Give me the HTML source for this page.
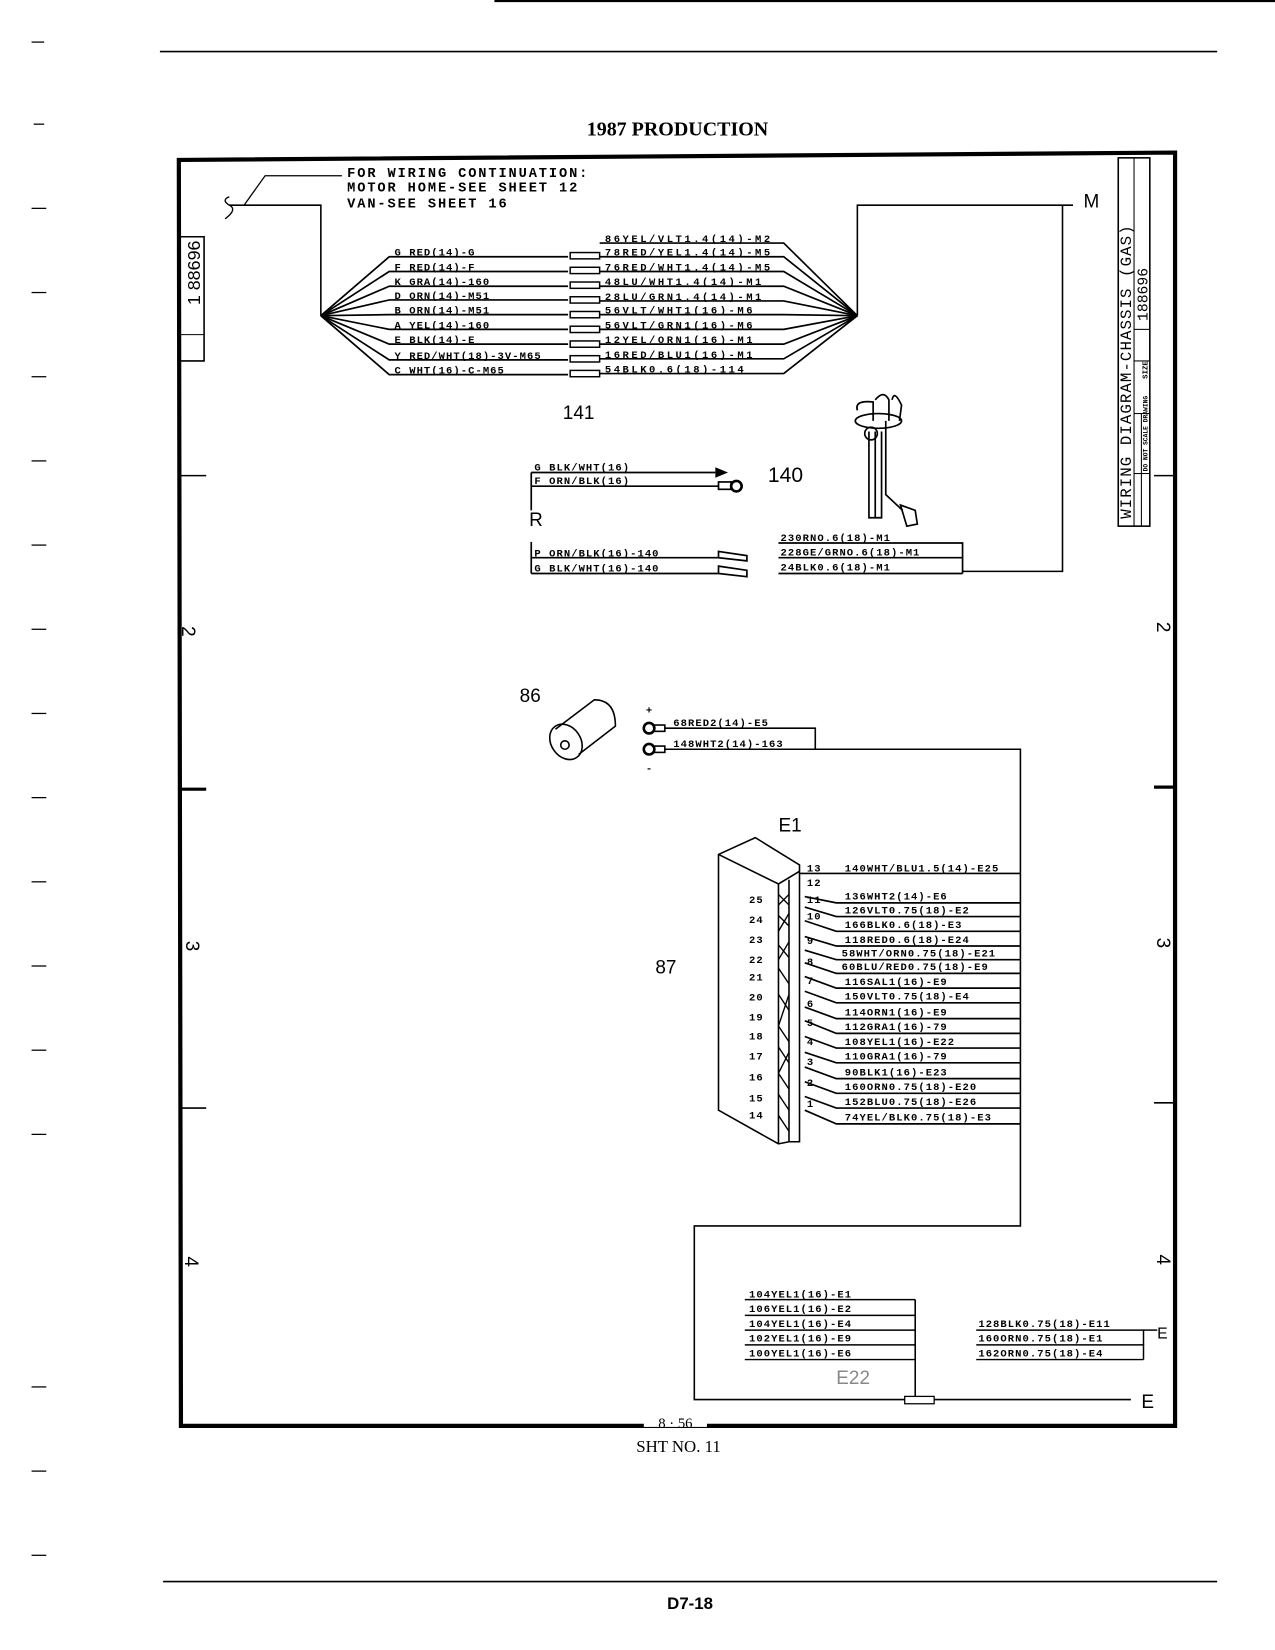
<!DOCTYPE html>
<html><head><meta charset="utf-8"><style>
html,body{margin:0;padding:0;background:#fff}
svg{display:block}
text{font-family:"Liberation Mono",monospace;fill:#000}
.s{font-size:10px;font-weight:bold;letter-spacing:1px}
.w{letter-spacing:2.4px}
.m{font-size:14px}
.big{font-family:"Liberation Sans",sans-serif;font-size:18px}
.ser{font-family:"Liberation Serif",serif;font-size:19px}
</style></head><body>
<svg width="1275" height="1650" viewBox="0 0 1212 1568" preserveAspectRatio="none" xmlns="http://www.w3.org/2000/svg">
<g stroke="#000" fill="none">
<line x1="470" y1="1" x2="1212" y2="1" stroke-width="2"/>
<line x1="152" y1="49" x2="1157" y2="49" stroke-width="1.5"/>
<line x1="155" y1="1503" x2="1157" y2="1503" stroke-width="1.5"/>
<path d="M170 152 L1117 145 L1117 1355 L172 1355 Z" stroke-width="4"/>
<g stroke-width="1.2">
<line x1="30" y1="40" x2="42" y2="40"/><line x1="32" y1="118" x2="42" y2="118"/><line x1="30" y1="198" x2="44" y2="198"/><line x1="30" y1="278" x2="44" y2="278"/><line x1="30" y1="358" x2="44" y2="358"/><line x1="30" y1="438" x2="44" y2="438"/><line x1="30" y1="518" x2="44" y2="518"/><line x1="30" y1="598" x2="44" y2="598"/><line x1="30" y1="678" x2="44" y2="678"/><line x1="30" y1="758" x2="44" y2="758"/><line x1="30" y1="838" x2="44" y2="838"/><line x1="30" y1="918" x2="44" y2="918"/><line x1="30" y1="998" x2="44" y2="998"/><line x1="30" y1="1078" x2="44" y2="1078"/><line x1="30" y1="1318" x2="44" y2="1318"/><line x1="30" y1="1398" x2="44" y2="1398"/><line x1="30" y1="1478" x2="44" y2="1478"/>
</g>
<line x1="172" y1="452" x2="196" y2="452" stroke-width="1.5"/><line x1="172" y1="1053" x2="196" y2="1053" stroke-width="1.5"/>
<line x1="1097" y1="452" x2="1117" y2="452" stroke-width="1.5"/><line x1="1097" y1="1048" x2="1117" y2="1048" stroke-width="1.5"/>
<line x1="172" y1="750" x2="196" y2="750" stroke-width="3"/><line x1="1097" y1="748" x2="1117" y2="748" stroke-width="3"/>
<path d="M172 225 H194 V343 H172" stroke-width="1.5"/>
<line x1="172" y1="318" x2="194" y2="318" stroke-width="1"/>
<rect x="1063" y="150" width="30" height="350" stroke-width="1.5"/>
<line x1="1078" y1="150" x2="1078" y2="500" stroke-width="1"/>
<line x1="1078" y1="313" x2="1093" y2="313"/><line x1="1078" y1="343" x2="1093" y2="343"/><line x1="1078" y1="393" x2="1093" y2="393"/><line x1="1078" y1="450" x2="1093" y2="450"/>
<line x1="1085" y1="393" x2="1085" y2="500"/>
<path d="M218 187 q-8 3 0 8 q8 4 -4 13" stroke-width="1.3"/>
<path d="M218 195 H305 V300" stroke-width="1.5"/>
<path d="M232 195 L252 167 H325" stroke-width="1.2"/>
<path d="M1020 195 H815 V300" stroke-width="1.5"/>
<path d="M1010 195 V543 H915" stroke-width="1.5"/>
</g>
<text x="330" y="168" class="m" font-weight="bold" style="font-size:13px;letter-spacing:1.8px">FOR WIRING CONTINUATION:</text>
<text x="330" y="182" class="m" style="font-size:13px;letter-spacing:1.8px;font-weight:bold">MOTOR HOME-SEE SHEET 12</text>
<text x="330" y="197" class="m" style="font-size:13px;letter-spacing:1.8px;font-weight:bold">VAN-SEE SHEET 16</text>
<text x="1030" y="197" class="big">M</text>
<text x="644" y="129" class="ser" text-anchor="middle" style="font-weight:bold">1987 PRODUCTION</text>
<text transform="translate(190 290) rotate(-90)" class="big" style="font-size:17px">1 88696</text>
<text transform="translate(1075 493) rotate(-90)" class="m" style="font-size:15px;letter-spacing:1px">WIRING DIAGRAM-CHASSIS (GAS)</text>
<text transform="translate(1091 305) rotate(-90)" class="m" style="font-size:14px">188696</text>
<text transform="translate(1091 360) rotate(-90)" class="s" style="font-size:7px;letter-spacing:0">SIZE</text>
<text transform="translate(1091 448) rotate(-90)" class="s" style="font-size:6px;letter-spacing:0">DO NOT SCALE DRAWING</text>
<text x="172" y="610" class="big" transform="rotate(90 180 603)">2</text>
<text x="1100" y="603" class="big" transform="rotate(90 1106 597)">2</text>
<text x="176" y="905" class="big" transform="rotate(90 182 900)">3</text>
<text x="1100" y="903" class="big" transform="rotate(90 1106 897)">3</text>
<text x="176" y="1206" class="big" transform="rotate(90 182 1200)">4</text>
<text x="1100" y="1204" class="big" transform="rotate(90 1106 1198)">4</text>

<g stroke="#000" stroke-width="1.6" fill="none">
<path d="M305 300 L370 244 H540"/><path d="M305 300 L370 258 H540"/><path d="M305 300 L370 272 H540"/><path d="M305 300 L370 285 H540"/><path d="M305 300 L370 299 H540"/><path d="M305 300 L370 313 H540"/><path d="M305 300 L370 327 H540"/><path d="M305 300 L370 342 H540"/><path d="M305 300 L370 356 H540"/>
<path d="M570 231 H745 L815 300"/><path d="M570 244 H745 L815 300"/><path d="M570 258 H745 L815 300"/><path d="M570 272 H745 L815 300"/><path d="M570 286 H745 L815 300"/><path d="M570 299 H745 L815 300"/><path d="M570 313 H745 L815 300"/><path d="M570 327 H745 L815 300"/><path d="M570 341 H745 L815 300"/><path d="M570 355 H745 L815 300"/>
<g stroke-width="1.4">
<rect x="542" y="240" width="28" height="6"/><rect x="542" y="254" width="28" height="6"/><rect x="542" y="268" width="28" height="6"/><rect x="542" y="282" width="28" height="6"/><rect x="542" y="296" width="28" height="6"/><rect x="542" y="310" width="28" height="6"/><rect x="542" y="324" width="28" height="6"/><rect x="542" y="338" width="28" height="6"/><rect x="542" y="352" width="28" height="6"/>
</g></g>
<g class="s">
<text x="375" y="243">G RED(14)-G</text><text x="375" y="257">F RED(14)-F</text><text x="375" y="271">K GRA(14)-160</text><text x="375" y="284">D ORN(14)-M51</text><text x="375" y="298">B ORN(14)-M51</text><text x="375" y="312">A YEL(14)-160</text><text x="375" y="326">E BLK(14)-E</text><text x="375" y="341">Y RED/WHT(18)-3V-M65</text><text x="375" y="355">C WHT(16)-C-M65</text>
</g>
<g class="s w">
<text x="575" y="230">86YEL/VLT1.4(14)-M2</text><text x="575" y="243">78RED/YEL1.4(14)-M5</text><text x="575" y="257">76RED/WHT1.4(14)-M5</text><text x="575" y="271">48LU/WHT1.4(14)-M1</text><text x="575" y="285">28LU/GRN1.4(14)-M1</text><text x="575" y="298">56VLT/WHT1(16)-M6</text><text x="575" y="312">56VLT/GRN1(16)-M6</text><text x="575" y="326">12YEL/ORN1(16)-M1</text><text x="575" y="340">16RED/BLU1(16)-M1</text><text x="575" y="354">54BLK0.6(18)-114</text>
</g>
<text x="535" y="398" class="big">141</text>

<g stroke="#000" stroke-width="1.6" fill="none">
<path d="M505 449 H680"/><path d="M505 449 V485"/><path d="M505 462 H683"/>
<path d="M505 515 V545"/><path d="M505 530 H683"/><path d="M505 545 H683"/>
<path d="M740 516 H915 V545"/><path d="M740 530 H915"/><path d="M740 545 H915"/>
<rect x="683" y="458" width="12" height="7"/><circle cx="700" cy="462" r="5" stroke-width="2.5"/>
<path d="M683 524 L710 528 L710 533 L683 530Z"/><path d="M683 538 L710 542 L710 548 L683 545Z"/>
<ellipse cx="835" cy="400" rx="22" ry="7"/><path d="M815 390 Q812 380 830 382 L830 400"/><path d="M832 380 Q840 370 845 380 L845 400"/><path d="M848 380 Q850 370 857 385 L855 400"/>
<path d="M826 410 V492 H838 V410"/><path d="M832 410 V492"/><path d="M842 400 V470 L858 485"/>
<path d="M856 480 L870 485 L872 498 L862 500Z"/><circle cx="828" cy="412" r="6"/>
</g>
<polygon points="680,444 692,449 680,454"/>
<g class="s">
<text x="508" y="447">G BLK/WHT(16)</text><text x="508" y="460">F ORN/BLK(16)</text>
<text x="508" y="529">P ORN/BLK(16)-140</text><text x="508" y="543">G BLK/WHT(16)-140</text>
<text x="742" y="514">230RNO.6(18)-M1</text><text x="742" y="528">228GE/GRNO.6(18)-M1</text><text x="742" y="542">24BLK0.6(18)-M1</text>
</g>
<text x="730" y="458" class="big" style="font-size:20px">140</text>
<text x="503" y="500" class="big">R</text>

<g stroke="#000" stroke-width="1.5" fill="none">
<path d="M528 693 L565 665 Q585 665 585 690 L550 717"/><ellipse cx="538" cy="705" rx="14" ry="18" transform="rotate(-35 538 705)"/><circle cx="537" cy="708" r="4"/>
<circle cx="617" cy="692" r="5" stroke-width="2.5"/><rect x="622" y="689" width="10" height="6"/>
<circle cx="617" cy="712" r="5" stroke-width="2.5"/><rect x="622" y="709" width="10" height="6"/>
<path d="M632 692 H775 V712"/><path d="M632 712 H970 V1165 H660 V1330 H1075"/>
<path d="M870 1235 V1330"/><rect x="860" y="1327" width="28" height="7" stroke-width="1.2" fill="#fff"/>
</g>
<text x="614" y="678" class="s">+</text><text x="614" y="733" class="s">-</text>
<text x="494" y="667" class="big">86</text>
<g class="s"><text x="640" y="690">68RED2(14)-E5</text><text x="640" y="710">148WHT2(14)-163</text></g>

<g stroke="#000" stroke-width="1.5" fill="none">
<path d="M683 812 L718 796 L760 822 L760 1085 L750 1085 L740 1087 L683 1055 Z"/>
<path d="M683 812 L740 840 L760 828"/><path d="M740 840 V1087"/><path d="M750 836 V1085"/>
<path d="M740 850 L750 860 M750 850 L740 860 M740 870 L750 880 M750 868 L740 885 M740 898 L750 910 M750 895 L740 912 M740 920 L750 935 M740 945 L750 960 M750 945 L740 975 M740 975 L750 990 M740 995 L750 1010 M750 1000 L740 1020 M740 1020 L750 1035 M740 1040 L750 1055 M740 1060 L750 1075" stroke-width="1.3"/>
</g>
<g stroke="#000" stroke-width="1.6" fill="none">
<path d="M760 830 H970"/><path d="M765 852 L795 858 H970"/><path d="M765 862 L795 871 H970"/><path d="M765 875 L795 885 H970"/><path d="M765 890 L795 899 H970"/><path d="M765 903 L795 912 H970"/><path d="M765 915 L795 925 H970"/><path d="M765 928 L795 939 H970"/><path d="M765 942 L795 953 H970"/><path d="M765 957 L795 968 H970"/><path d="M765 970 L795 982 H970"/><path d="M765 985 L795 996 H970"/><path d="M765 1000 L795 1010 H970"/><path d="M765 1014 L795 1025 H970"/><path d="M765 1028 L795 1039 H970"/><path d="M765 1042 L795 1053 H970"/><path d="M765 1055 L795 1068 H970"/>
</g>
<g class="s">
<text x="767" y="828">13</text><text x="767" y="842">12</text><text x="767" y="858">11</text><text x="767" y="874">10</text><text x="767" y="897">9</text><text x="767" y="917">8</text><text x="767" y="935">7</text><text x="767" y="957">6</text><text x="767" y="975">5</text><text x="767" y="993">4</text><text x="767" y="1012">3</text><text x="767" y="1032">2</text><text x="767" y="1052">1</text>
<text x="712" y="858">25</text><text x="712" y="877">24</text><text x="712" y="896">23</text><text x="712" y="915">22</text><text x="712" y="932">21</text><text x="712" y="951">20</text><text x="712" y="970">19</text><text x="712" y="988">18</text><text x="712" y="1007">17</text><text x="712" y="1027">16</text><text x="712" y="1047">15</text><text x="712" y="1063">14</text>
<text x="803" y="828">140WHT/BLU1.5(14)-E25</text><text x="803" y="855">136WHT2(14)-E6</text><text x="803" y="868">126VLT0.75(18)-E2</text><text x="803" y="882">166BLK0.6(18)-E3</text><text x="803" y="896">118RED0.6(18)-E24</text><text x="800" y="909">58WHT/ORN0.75(18)-E21</text><text x="800" y="922">60BLU/RED0.75(18)-E9</text><text x="803" y="936">116SAL1(16)-E9</text><text x="803" y="950">150VLT0.75(18)-E4</text><text x="803" y="965">114ORN1(16)-E9</text><text x="803" y="979">112GRA1(16)-79</text><text x="803" y="993">108YEL1(16)-E22</text><text x="803" y="1007">110GRA1(16)-79</text><text x="803" y="1022">90BLK1(16)-E23</text><text x="803" y="1036">160ORN0.75(18)-E20</text><text x="803" y="1050">152BLU0.75(18)-E26</text><text x="803" y="1065">74YEL/BLK0.75(18)-E3</text>
</g>
<text x="740" y="790" class="big">E1</text>
<text x="623" y="925" class="big">87</text>

<g stroke="#000" stroke-width="1.4" fill="none">
<path d="M708 1235 H870"/><path d="M708 1250 H870 V1235"/><path d="M708 1264 H870 V1250"/><path d="M708 1278 H870 V1264"/><path d="M708 1292 H870 V1278"/>
<path d="M928 1264 H1087 V1278"/><path d="M928 1278 H1087 V1292"/><path d="M928 1292 H1087"/><path d="M1087 1264 H1100"/>
</g>
<g class="s">
<text x="712" y="1233">104YEL1(16)-E1</text><text x="712" y="1247">106YEL1(16)-E2</text><text x="712" y="1261">104YEL1(16)-E4</text><text x="712" y="1275">102YEL1(16)-E9</text><text x="712" y="1289">100YEL1(16)-E6</text>
<text x="930" y="1261">128BLK0.75(18)-E11</text><text x="930" y="1275">160ORN0.75(18)-E1</text><text x="930" y="1289">162ORN0.75(18)-E4</text>
</g>
<text x="795" y="1315" class="big" style="fill:#888">E22</text>
<text x="1100" y="1272" class="big" style="font-size:15px">E</text>
<text x="1085" y="1338" class="big">E</text>

<rect x="612" y="1350" width="60" height="6" fill="#fff"/>
<text x="642" y="1357" class="ser" text-anchor="middle" style="font-size:14px">8 · 56</text>
<text x="645" y="1380" class="ser" text-anchor="middle" style="font-size:16px">SHT NO. 11</text>
<text x="656" y="1529" class="big" text-anchor="middle" style="font-size:16px;font-weight:bold">D7-18</text>
</svg>
</body></html>
